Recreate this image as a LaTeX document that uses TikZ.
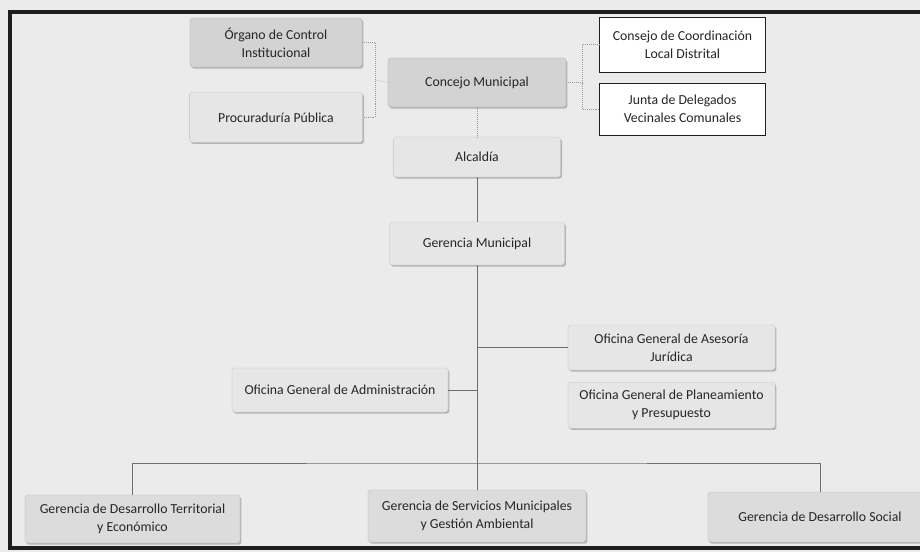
\documentclass[tikz,border=0pt]{standalone}
\usepackage{fontspec}
\setmainfont{Carlito}
\usetikzlibrary{positioning, shadows}
\definecolor{paper}{HTML}{EBEBEB}
\definecolor{frameDark}{HTML}{1E1E1E}
\definecolor{unitDark}{HTML}{D3D3D3}
\definecolor{unitMid}{HTML}{DCDCDC}
\definecolor{unitLight}{HTML}{E6E6E6}
\definecolor{lineGray}{HTML}{6E6E6E}
\definecolor{textInk}{HTML}{262626}

\begin{document}
\begin{tikzpicture}[
    x=0.025cm, y=-0.025cm,
    unit/.style={rectangle, rounded corners=2pt, draw=#1!85!black, line width=0.2pt,
                 fill=#1, font=\fontsize{9.8}{12.8}\selectfont\color{textInk},
                 align=center, inner sep=2pt,
                 drop shadow={shadow xshift=1pt, shadow yshift=-1.2pt,
                              fill=black!55, opacity=0.45}},
    council/.style={rectangle, draw=frameDark, line width=0.7pt, fill=white,
                    font=\fontsize{9.8}{12.8}\selectfont\color{textInk},
                    align=center, minimum width=4.125cm},
    link/.style={line width=0.5pt, lineGray},
    aux/.style={line width=0.4pt, lineGray!70, densely dotted}
  ]
    \fill[paper] (0,0) rectangle (920,552);
    \useasboundingbox (0,0) rectangle (920,552);
    \draw[frameDark, line width=2.2pt] (935,12) -- (10,12) -- (10,548) -- (935,548);

    \node[unit=unitDark, minimum width=4.3cm, minimum height=1.225cm] (oci) at (276,42.5)
      {Órgano de Control\\Institucional};
    \node[unit=unitLight, minimum width=4.33cm, minimum height=1.25cm, below=0.625cm of oci] (pp)
      {Procuraduría Pública};
    \node[unit=unitDark, minimum width=4.45cm, minimum height=1.225cm] (cm) at (477,82.5)
      {Concejo Municipal};
    \node[unit=unitLight, minimum width=4.18cm, minimum height=1.0cm] (alc) at (477,157)
      {Alcaldía};
    \node[council, minimum height=1.375cm] (ccl) at (682.5,44.5)
      {Consejo de Coordinación\\Local Distrital};
    \node[council, minimum height=1.3cm, below=0.25cm of ccl] (jdv)
      {Junta de Delegados\\Vecinales Comunales};

    \node[unit=unitLight, minimum width=4.375cm, minimum height=1.075cm] (gm) at (477,243.5)
      {Gerencia Municipal};
    \node[unit=unitLight, minimum width=5.175cm, minimum height=1.125cm] (oaj) at (671.5,347.5)
      {Oficina General de Asesoría\\Jurídica};
    \node[unit=unitLight, minimum width=5.175cm, minimum height=1.15cm, below=0.3cm of oaj] (opp)
      {Oficina General de Planeamiento\\y Presupuesto};
    \node[unit=unitLight, minimum width=5.4cm, minimum height=1.1cm] (oga) at (340,390)
      {Oficina General de Administración};

    \node[unit=unitMid, minimum width=5.375cm, minimum height=1.2cm] (gdt) at (132.5,519)
      {Gerencia de Desarrollo Territorial\\y Económico};
    \node[unit=unitMid, minimum width=5.45cm, minimum height=1.3cm] (gsm) at (477,516)
      {Gerencia de Servicios Municipales\\y Gestión Ambiental};
    \node[unit=unitMid, minimum width=5.6cm, minimum height=1.25cm] (gds) at (820,517)
      {Gerencia de Desarrollo Social};

    \coordinate (lft) at (375,80);
    \coordinate (rgt) at (582,82.5);
    \coordinate (bus) at (477,463);

    \draw[aux] (oci.east) -| (lft) |- (pp.east);
    \draw[aux] (lft) -- (cm.west);
    \draw[aux] (cm.east) -- (rgt);
    \draw[aux] (ccl.west) -| (rgt) |- (jdv.west);
    \draw[aux] (cm.south) -- (alc.north);

    \draw[link] (alc.south) -- (gm.north);
    \draw[link] (gm.south) -- (gsm.north);
    \draw[link] (oaj.west) -- (oaj.west -| gm.south);
    \draw[link] (oga.east) -- (oga.east -| gm.south);
    \draw[link] (gdt.north) |- (bus) -| (gds.north);
  \end{tikzpicture}
\end{document}
